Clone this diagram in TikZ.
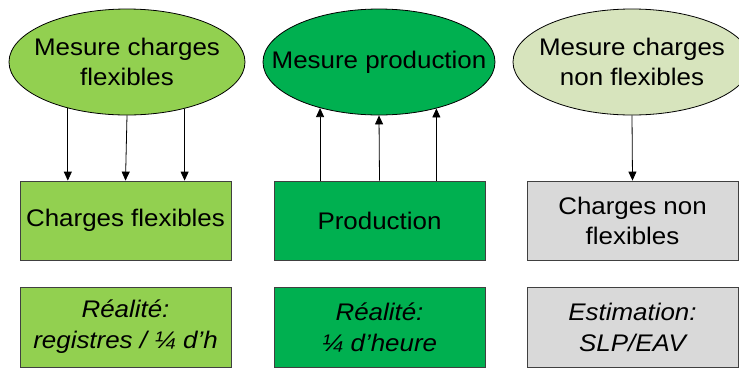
\documentclass[tikz,border=0pt]{standalone}
\usepackage{fontspec}
\setmainfont{Liberation Sans}[FakeStretch=1.08]
\usepackage{tikz}
\usetikzlibrary{shapes.geometric,arrows.meta}
\definecolor{FlexFill}{RGB}{146,208,80}
\definecolor{ProdFill}{RGB}{0,176,80}
\definecolor{NonFill} {RGB}{215,228,189}
\definecolor{GreyFill}{RGB}{217,217,217}
\definecolor{BoxLine} {RGB}{64,64,64}
\tikzset{
  nd_ell/.style={
    ellipse, draw=black, line width=0.8pt,
    inner sep=0pt, minimum height=106pt},
  nd_txt/.style={
    inner sep=0pt, align=center,
    font=\fontsize{24}{30}\selectfont},
  nd_box/.style={
    rectangle, draw=BoxLine, line width=0.8pt,
    minimum width=211pt, minimum height=79pt,
    inner sep=2pt, align=center,
    font=\fontsize{24}{30}\selectfont},
  nd_note/.style={
    nd_box, minimum height=80pt,
    font=\fontsize{24}{31}\selectfont\itshape},
  arr/.style={-{Triangle[length=9pt,width=8pt]},line width=0.8pt},
}

\begin{document}
\begin{tikzpicture}[x=1pt,y=1pt]
\useasboundingbox (0,0) rectangle (739,-368);

\def\cA{125.5}\def\cB{379.5}\def\cC{632.5}

%% measurements (top row)
\node[nd_ell,fill=FlexFill,minimum width=236pt,
  label={[nd_txt]center:Mesure charges\\flexibles}] at (127,-62) (mFlex){};
\node[nd_ell,fill=ProdFill,minimum width=232pt,
  label={[nd_txt]center:Mesure production}] at (379,-62) (mProd){};
\node[nd_ell,fill=NonFill,minimum width=238pt,
  label={[nd_txt]center:Mesure charges\\non flexibles}] at (632,-62) (mNon){};

%% quantities
\node[nd_box,fill=FlexFill] at (\cA,-220.5) (qFlex){Charges flexibles};
\node[nd_box,fill=ProdFill] at (\cB,-220.5) (qProd){Production};
\node[nd_box,fill=GreyFill] at (\cC,-220.5) (qNon){Charges non\\flexibles};

%% how they are known
\node[nd_note,fill=FlexFill] at (\cA,-327) (rFlex){Réalité:\\registres / ¼ d’h};
\node[nd_note,fill=ProdFill] at (\cB,-327) (rProd){Réalité:\\¼ d’heure};
\node[nd_note,fill=GreyFill] at (\cC,-327) (rNon){Estimation:\\SLP/EAV};

\draw[arr] (mFlex.south)--(qFlex.north);
\foreach \a in {218.4,321.6}
  {\draw[arr] (mFlex.\a)--(mFlex.\a |- qFlex.north);}

\draw[arr] (qProd.north)--(mProd.south);
\foreach \a in {218.4,321.6}
  {\draw[arr] (mProd.\a |- qProd.north)--(mProd.\a);}

\draw[arr] (mNon.south)--(qNon.north);

\end{tikzpicture}
\end{document}
